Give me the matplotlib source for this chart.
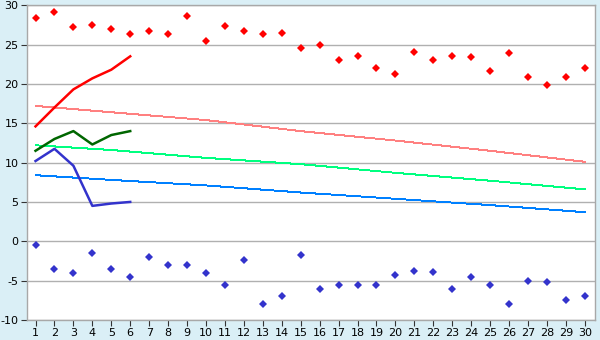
import numpy as np
import matplotlib.pyplot as plt

plt.rcParams["axes.unicode_minus"] = False

days = list(range(1, 31))
highs = [28.4, 29.1, 27.2, 27.5, 27.0, 26.4, 26.7, 26.3, 28.6, 25.4,
         27.4, 26.7, 26.3, 26.5, 24.6, 25.0, 23.0, 23.5, 22.0, 21.3,
         24.0, 23.0, 23.5, 23.4, 21.6, 23.9, 20.9, 19.9, 20.9, 22.0]
lows = [-0.5, -3.5, -4.0, -1.5, -3.5, -4.5, -2.0, -3.0, -3.0, -4.0,
        -5.5, -2.4, -8.0, -7.0, -1.7, -6.0, -5.5, -5.5, -5.5, -4.3,
        -3.8, -3.9, -6.0, -4.5, -5.6, -8.0, -5.0, -5.2, -7.5, -7.0]

# normal values, read at a few days
norm_days = [1, 5, 10, 15, 20, 25, 30]
norm_high = [17.2, 16.4, 15.4, 14.0, 12.8, 11.5, 10.1]
norm_mean = [12.2, 11.6, 10.6, 9.8, 8.7, 7.7, 6.6]
norm_low = [8.4, 7.8, 7.1, 6.2, 5.4, 4.6, 3.7]

# current month, first days
cur_days = [1, 2, 3, 4, 5, 6]
cur_high = [14.6, 17.0, 19.3, 20.7, 21.8, 23.5]
cur_mean = [11.5, 13.0, 14.0, 12.3, 13.5, 14.0]
cur_low = [10.2, 11.75, 9.6, 4.5, 4.8, 5.0]

bg = "#daeff6"
fig = plt.figure(figsize=(6, 3.4), dpi=100, facecolor=bg)
ax = fig.add_axes([0.045, 0.0588, 0.947, 0.926])
ax.set_facecolor("white")

ax.plot(norm_days, norm_high, color="#ff8080", lw=0.7, antialiased=False)
ax.plot(norm_days, norm_mean, color="#00ff80", lw=0.7, antialiased=False)
ax.plot(norm_days, norm_low, color="#0080ff", lw=0.7, antialiased=False)

ax.plot(cur_days, cur_high, color="#ff0000", lw=1.8)
ax.plot(cur_days, cur_mean, color="#006600", lw=1.8)
ax.plot(cur_days, cur_low, color="#3333cc", lw=1.8)

ax.plot(days, highs, "D", color="#ff0000", ms=4, mew=0)
ax.plot(days, lows, "D", color="#3333cc", ms=4, mew=0)

ax.set_xlim(0.55, 30.55)
ax.set_ylim(-10, 30)
ax.set_xticks(days)
ax.set_yticks(range(-10, 31, 5))
ax.yaxis.grid(True, color="#b0b0b0", lw=1)
ax.set_axisbelow(True)
for s in ax.spines.values():
    s.set_color("#a8a8a8")
    s.set_linewidth(1)
ax.tick_params(axis="both", labelsize=8, color="#333333", length=4, width=0.8, pad=2)

plt.savefig("out.png", dpi=100, facecolor=bg)
